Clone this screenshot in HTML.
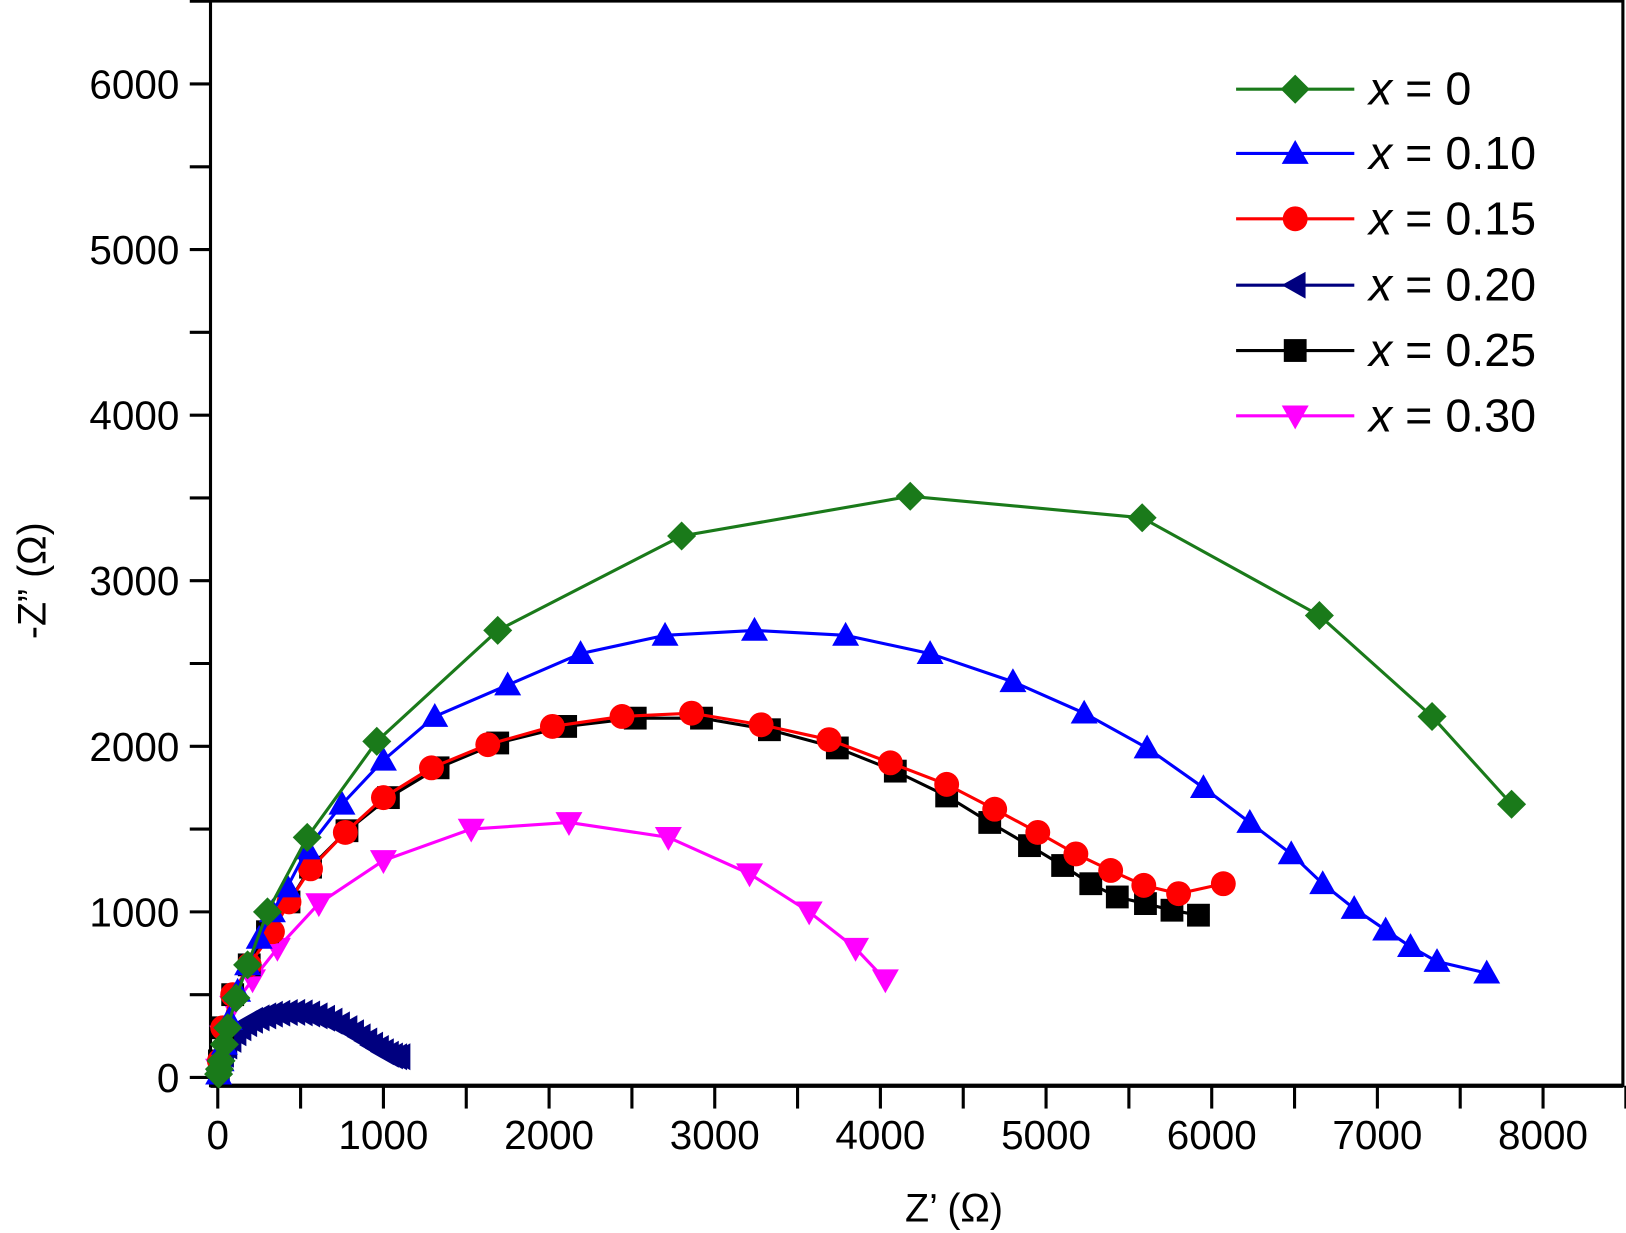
<!DOCTYPE html>
<html><head><meta charset="utf-8"><style>
html,body{margin:0;padding:0;background:#fff;}
svg{display:block;font-family:"Liberation Sans",Arial,sans-serif;}
</style></head><body>
<svg id="chart" width="1626" height="1233" viewBox="0 0 1568 1189" preserveAspectRatio="none" xmlns="http://www.w3.org/2000/svg">
<rect x="0" y="0" width="1568" height="1189" fill="#fff"/>
<g id="plot"></g>
</svg>
<script>
const xTicks=[0,1000,2000,3000,4000,5000,6000,7000,8000];
const yTicks=[0,1000,2000,3000,4000,5000,6000];
const seriesNames=["x = 0","x = 0.10","x = 0.15","x = 0.20","x = 0.25","x = 0.30"];
const seriesColors=["#1a7a1a","#0000ff","#ff0000","#00007f","#000000","#ff00ff"];
const seriesMarkers=["diamond","up","circle","left","square","down"];
const z1x0=[5,10,20,40,60,110,180,300,540,960,1690,2800,4180,5580,6650,7330,7810];
const z2x0=[20,50,100,200,300,480,680,1000,1450,2030,2700,3270,3510,3380,2790,2180,1650];
const z1x10=[5,20,40,70,120,180,250,330,420,540,750,1000,1310,1750,2190,2700,3240,3790,4300,4800,5230,5610,5950,6230,6480,6670,6860,7050,7200,7360,7660];
const z2x10=[20,100,200,350,520,680,840,1000,1150,1380,1650,1916,2180,2370,2560,2670,2700,2670,2560,2390,2200,1990,1750,1540,1350,1170,1020,890,790,700,630];
const z1x15=[10,30,90,190,330,430,560,770,1000,1290,1630,2020,2440,2860,3280,3690,4060,4400,4690,4950,5180,5390,5590,5800,6070];
const z2x15=[100,300,500,680,880,1060,1260,1480,1690,1870,2010,2120,2180,2200,2130,2040,1900,1770,1620,1480,1350,1250,1160,1110,1170];
const z1x20=[10,20,35,55,80,110,140,175,210,250,290,330,375,420,465,510,555,600,645,690,735,780,820,860,900,935,970,1000,1030,1055,1080,1100];
const z2x20=[40,90,140,190,230,270,300,325,345,360,372,382,388,392,393,390,383,372,358,340,318,295,270,245,220,195,175,155,140,130,125,125];
const z1x25=[10,30,90,190,300,430,560,780,1030,1330,1690,2100,2520,2920,3330,3740,4090,4400,4660,4900,5100,5270,5430,5600,5760,5920];
const z2x25=[100,300,500,680,880,1060,1270,1490,1690,1870,2020,2120,2170,2170,2100,1990,1850,1700,1540,1400,1280,1170,1090,1050,1010,980];
const z1x30=[5,30,90,210,360,610,1000,1530,2120,2720,3210,3570,3850,4030];
const z2x30=[50,250,430,590,780,1050,1310,1500,1540,1450,1230,1000,780,590];
const allX=[z1x0,z1x10,z1x15,z1x20,z1x25,z1x30];
const allY=[z2x0,z2x10,z2x15,z2x20,z2x25,z2x30];
const drawOrder=[3,5,4,2,1,0];

const NS="http://www.w3.org/2000/svg";
const g=document.getElementById('plot');
const X0=210,XS=0.15975,Y0=1039,YS=0.15967;
const sx=v=>X0+v*XS, sy=v=>Y0-v*YS;
function el(t,a){const e=document.createElementNS(NS,t);for(const k in a)e.setAttribute(k,a[k]);g.appendChild(e);return e;}
function marker(type,cx,cy,c){
  let e;
  if(type==="diamond"){e=el('polygon',{points:`${cx},${cy-14} ${cx+14},${cy} ${cx},${cy+14} ${cx-14},${cy}`,fill:c});}
  else if(type==="up"){e=el('polygon',{points:`${cx},${cy-13} ${cx+13},${cy+10} ${cx-13},${cy+10}`,fill:c});}
  else if(type==="down"){e=el('polygon',{points:`${cx},${cy+13} ${cx+13},${cy-10} ${cx-13},${cy-10}`,fill:c});}
  else if(type==="left"){e=el('polygon',{points:`${cx-13},${cy} ${cx+10},${cy-13} ${cx+10},${cy+13}`,fill:c});}
  else if(type==="square"){e=el('rect',{x:cx-11,y:cy-11,width:22,height:22,fill:c});}
  else {e=el('circle',{cx:cx,cy:cy,r:12,fill:c});}
  return e;
}
let f=el('rect',{x:203,y:1,width:1362,height:1046,fill:'none',stroke:'#000','stroke-width':3});


let xa=el('line',{x1:203,y1:1047,x2:1565,y2:1047,stroke:'#000','stroke-width':4});


for(let v=0;v<=8500;v+=500){
  const t=el('line',{x1:sx(v),y1:1047,x2:sx(v),y2:1069,stroke:'#000','stroke-width':3});
  
  
}
xTicks.forEach(v=>{
  const t=el('text',{x:sx(v),y:1108,'text-anchor':'middle','font-size':39});t.textContent=v;
  
  
});
for(let v=0;v<=6500;v+=500){
  const t=el('line',{x1:183,y1:sy(v),x2:203,y2:sy(v),stroke:'#000','stroke-width':3});
  
  
}
yTicks.forEach(v=>{
  const t=el('text',{x:173,y:sy(v)+14,'text-anchor':'end','font-size':39});t.textContent=v;
  
  
});
let xt=el('text',{x:920,y:1178,'text-anchor':'middle','font-size':38});xt.textContent="Z’ (Ω)";


let yt=el('text',{x:0,y:0,'text-anchor':'middle','font-size':38,transform:'translate(44,560) rotate(-90)'});yt.textContent="-Z” (Ω)";


drawOrder.forEach(i=>{
  const xs=allX[i],ys=allY[i],c=seriesColors[i];
  const pts=xs.map((v,j)=>sx(v)+','+sy(ys[j])).join(' ');
  const l=el('polyline',{points:pts,fill:'none',stroke:c,'stroke-width':3});
  
  
  xs.forEach((v,j)=>{
    const m=marker(seriesMarkers[i],sx(v),sy(ys[j]),c);
    
    
  });
});
const legY=[86,148,211,275,338,401];
seriesNames.forEach((n,i)=>{
  const y=legY[i],c=seriesColors[i];
  const l=el('line',{x1:1192,y1:y,x2:1306,y2:y,stroke:c,'stroke-width':3});
  
  
  const m=marker(seriesMarkers[i],1249,y,c);
  
  
  const t=el('text',{x:1320,y:y+15,'font-size':45});
  t.innerHTML='<tspan font-style="italic">x</tspan>'+n.slice(1);
  
  
});
</script>
</body></html>
